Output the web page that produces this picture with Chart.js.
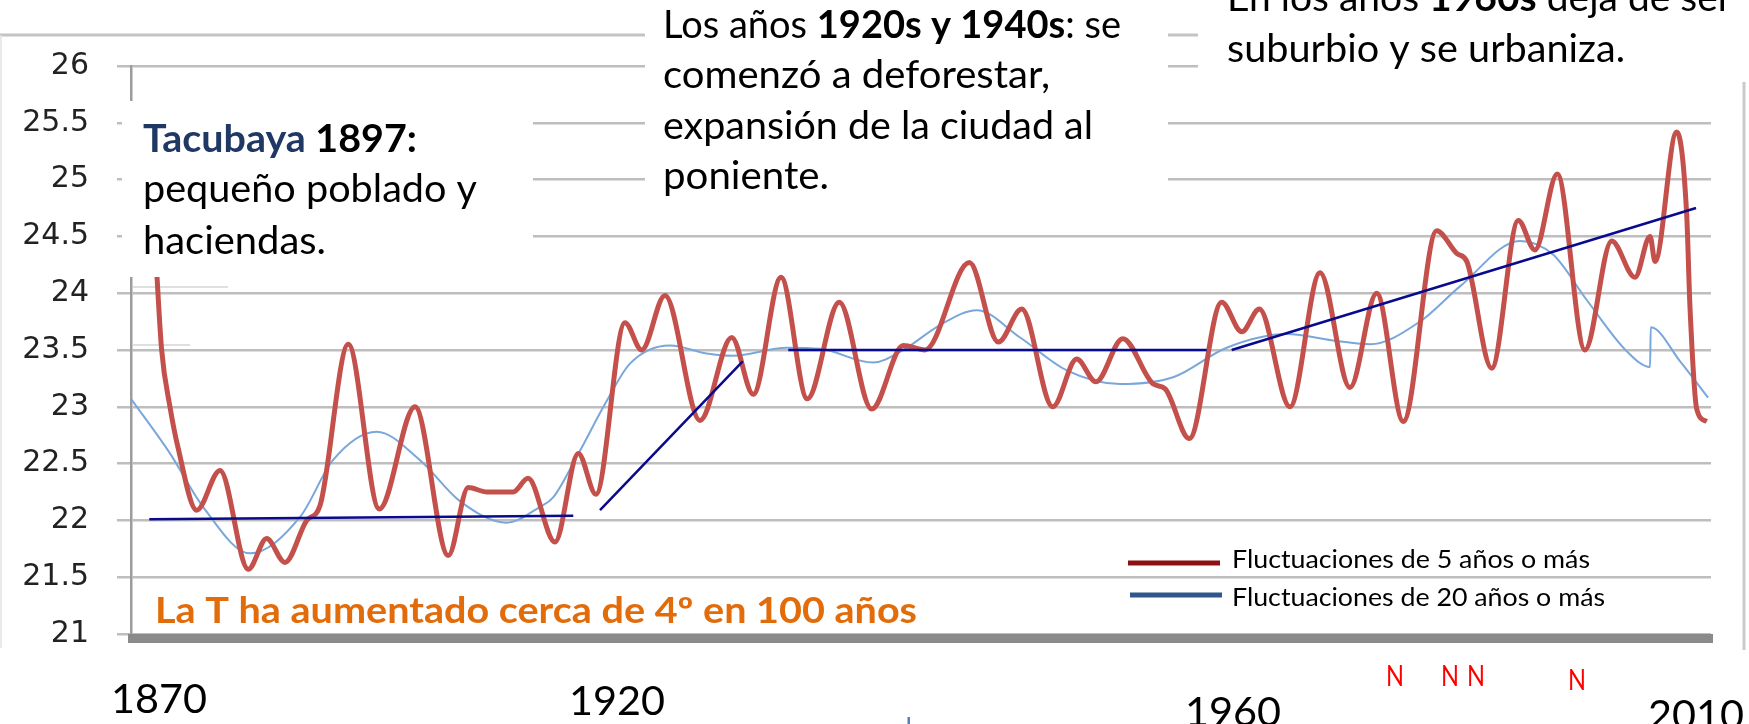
<!DOCTYPE html>
<html lang="es">
<head>
<meta charset="utf-8">
<title>Tacubaya - temperatura media</title>
<script src="https://cdn.jsdelivr.net/npm/chart.js@4.4.1/dist/chart.umd.min.js"></script>
<style>
  html, body { margin: 0; padding: 0; background: #fff; }
  #wrap { width: 1749px; height: 724px; }
</style>
</head>
<body>
<div id="wrap"><canvas id="chart" width="1749" height="724"></canvas></div>
<script>
// Smoothed annual mean temperature, Tacubaya (°C)
const years5 = [1879.10, 1879.58, 1880.28, 1880.96, 1882.53, 1884.49, 1886.87, 1888.42, 1889.96, 1891.79,
  1892.91, 1895.29, 1897.90, 1900.91, 1903.71, 1905.39, 1906.97, 1909.16, 1910.42, 1912.69,
  1914.65, 1916.14, 1918.58, 1919.99, 1921.95, 1924.90, 1927.57, 1929.38, 1931.72, 1933.93,
  1936.62, 1939.35, 1942.01, 1943.84, 1947.57, 1950.01, 1951.98, 1954.59, 1956.61, 1958.23,
  1960.48, 1963.06, 1964.04, 1966.09, 1968.81, 1970.50, 1971.98, 1974.56, 1977.09, 1979.61,
  1981.86, 1984.10, 1986.91, 1988.60, 1989.44, 1991.54, 1993.78, 1995.18, 1997.06, 1999.39,
  2001.64, 2003.60, 2004.87, 2005.29, 2007.11, 2007.95, 2008.23, 2008.80, 2009.64];
const temp5 = [24.30, 23.50, 23.00, 22.64, 22.09, 22.44, 21.57, 21.84, 21.63, 22.00,
  22.13, 23.55, 22.10, 23.00, 21.69, 22.29, 22.25, 22.25, 22.37, 21.81,
  22.59, 22.23, 23.74, 23.50, 23.98, 22.88, 23.61, 23.11, 24.14, 23.07,
  23.92, 22.98, 23.54, 23.50, 24.27, 23.57, 23.86, 23.00, 23.42, 23.22,
  23.60, 23.20, 23.16, 22.72, 23.92, 23.66, 23.86, 23.00, 24.18, 23.17,
  24.00, 22.87, 24.55, 24.35, 24.28, 23.34, 24.64, 24.38, 25.05, 23.50,
  24.46, 24.14, 24.50, 24.28, 25.42, 24.70, 23.88, 22.98, 22.87];

const years20 = [1877.00, 1880.28, 1883.06, 1887.02, 1891.23, 1894.00, 1897.68, 1901.33, 1904.69, 1908.62,
  1911.43, 1912.52, 1914.52, 1917.04, 1919.00, 1922.37, 1925.46, 1927.67, 1932.19, 1935.00,
  1939.46, 1941.99, 1945.10, 1948.19, 1951.84, 1955.77, 1960.26, 1964.72, 1969.23, 1974.28,
  1978.49, 1981.30, 1985.50, 1988.87, 1993.92, 1996.70, 1999.54, 2002.90, 2004.87, 2004.93,
  2007.40, 2009.75];
const temp20 = [23.07, 22.59, 22.12, 21.71, 22.03, 22.53, 22.78, 22.53, 22.17, 21.98,
  22.12, 22.20, 22.56, 23.05, 23.38, 23.54, 23.47, 23.45, 23.52, 23.51,
  23.39, 23.50, 23.72, 23.85, 23.61, 23.32, 23.20, 23.26, 23.52, 23.64,
  23.58, 23.55, 23.75, 24.06, 24.46, 24.34, 23.94, 23.49, 23.35, 23.70,
  23.40, 23.08];

// hand-drawn trend segments, null breaks the line between them
const trendYears = [1878.54, 1914.23, 1915.30, 1916.48, 1928.49, 1930.40, 1932.33, 1967.55, 1968.60, 1969.65, 2008.74];
const trendTemp = [22.01, 22.04, null, 22.09, 23.40, null, 23.50, 23.50, null, 23.50, 24.75];

const yearRange = [1877, 2010];
const tempRange = [21, 26];
const tempStep = 0.5;

const seriesNames = ['Fluctuaciones de 5 años o más', 'Fluctuaciones de 20 años o más'];
const yearMarks = ['1870', '1920', '1960', '2010'];

const toPoints = (xs, ys) => xs.map((x, i) => ({ x, y: ys[i] }));

const FACE = 'Lato, "Noto Sans", sans-serif';

// draws a line of mixed runs, squeezed/stretched to a given width
function fitRuns(ctx, runs, x, y, size, width) {
  ctx.save();
  ctx.textAlign = 'left';
  ctx.textBaseline = 'alphabetic';
  const pieces = runs.map(([text, bold, color]) => {
    ctx.font = (bold ? 'bold ' : '') + size + 'px ' + FACE;
    return { text, color, font: ctx.font, w: ctx.measureText(text).width };
  });
  const natural = pieces.reduce((s, p) => s + p.w, 0);
  ctx.translate(x, y);
  ctx.scale(width ? width / natural : 1, 1);
  let cx = 0;
  for (const p of pieces) {
    ctx.font = p.font;
    ctx.fillStyle = p.color || '#000';
    ctx.fillText(p.text, cx, 0);
    cx += p.w;
  }
  ctx.restore();
}

function seg(ctx, x1, y1, x2, y2) {
  ctx.beginPath();
  ctx.moveTo(x1, y1);
  ctx.lineTo(x2, y2);
  ctx.stroke();
}

// white callouts laid over the chart
const boxes = [
  [122, 101, 411, 176],
  [645, 0, 523, 205],
  [1198, 0, 551, 82]
];

const notes = [
  { x: 143, y: 152, w: 274, runs: [['Tacubaya', true, '#1F3864'], [' 1897:', true]] },
  { x: 143, y: 202, w: 334, runs: [['pequeño poblado y']] },
  { x: 143, y: 254, w: 183, runs: [['haciendas.']] },
  { x: 663, y: 38, w: 458, runs: [['Los años '], ['1920s y 1940s', true], [': se']] },
  { x: 663, y: 88, w: 387, runs: [['comenzó a deforestar,']] },
  { x: 663, y: 139, w: 430, runs: [['expansión de la ciudad al']] },
  { x: 663, y: 189, w: 166, runs: [['poniente.']] },
  { x: 1227, y: 11, w: 505, runs: [['En los años '], ['1960s', true], [' deja de ser']] },
  { x: 1227, y: 62, w: 398, runs: [['suburbio y se urbaniza.']] }
];

const decor = {
  id: 'decor',
  beforeDraw(chart) {
    const ctx = chart.ctx;
    ctx.save();
    ctx.fillStyle = '#fff';
    ctx.fillRect(0, 0, chart.width, chart.height);
    // frame of the pasted chart
    ctx.strokeStyle = '#c4c4c4';
    ctx.lineWidth = 3;
    seg(ctx, 0, 35, chart.width, 35);
    ctx.strokeStyle = '#cacaca';
    seg(ctx, 1744, 35, 1744, 650);
    ctx.strokeStyle = '#e2e2e2';
    ctx.lineWidth = 1.5;
    seg(ctx, 1, 35, 1, 648);
    ctx.restore();
  },
  beforeDatasetsDraw(chart) {
    const { ctx, chartArea: a } = chart;
    ctx.save();
    ctx.fillStyle = '#8a8a8a';
    ctx.fillRect(a.left - 3, a.bottom, a.right - a.left + 5, 9);
    ctx.strokeStyle = '#d4d4d4';
    ctx.lineWidth = 1.5;
    seg(ctx, 133, 287, 228, 287);
    seg(ctx, 133, 345, 190, 345);
    ctx.restore();
  },
  afterDraw(chart) {
    const ctx = chart.ctx;
    ctx.save();
    ctx.fillStyle = '#fff';
    boxes.forEach(([x, y, w, h]) => ctx.fillRect(x, y, w, h));
    notes.forEach(n => fitRuns(ctx, n.runs, n.x, n.y, 38, n.w));

    fitRuns(ctx, [['La T ha aumentado cerca de 4º en 100 años', true, '#E36C0A']], 155, 623, 35.5, 762);

    // legend
    ctx.lineCap = 'butt';
    ctx.lineWidth = 5;
    ctx.strokeStyle = '#8E1010';
    seg(ctx, 1128, 563, 1220, 563);
    ctx.strokeStyle = '#2E578E';
    seg(ctx, 1130, 595, 1222, 595);
    const ds = chart.data.datasets;
    fitRuns(ctx, [[ds[1].label]], 1232, 568, 25.5, 358);
    fitRuns(ctx, [[ds[2].label]], 1232, 606, 25.5, 373);

    // year captions under the axis
    const yearPos = [[111, 713], [569, 715], [1185, 726], [1648, 729]];
    yearMarks.forEach((t, i) => fitRuns(ctx, [[t]], yearPos[i][0], yearPos[i][1], 40, 96));

    const nPos = [[1386, 686], [1441, 686], [1467, 686], [1568, 690]];
    nPos.forEach(([x, y]) => fitRuns(ctx, [['N', false, '#FF0000']], x, y, 28, 18));

    ctx.fillStyle = '#5b7fb5';
    ctx.fillRect(907.5, 717, 2.5, 7);
    ctx.restore();
  }
};

new Chart(document.getElementById('chart'), {
  type: 'line',
  data: {
    datasets: [
      {
        label: 'Tendencia',
        data: toPoints(trendYears, trendTemp),
        borderColor: '#0A0A8C',
        borderWidth: 2.5,
        tension: 0,
        spanGaps: false
      },
      {
        label: seriesNames[0],
        data: toPoints(years5, temp5),
        borderColor: '#C4504C',
        borderWidth: 5,
        cubicInterpolationMode: 'monotone'
      },
      {
        label: seriesNames[1],
        data: toPoints(years20, temp20),
        borderColor: '#7AA7DB',
        borderWidth: 2,
        cubicInterpolationMode: 'monotone'
      }
    ]
  },
  options: {
    responsive: false,
    animation: false,
    devicePixelRatio: 1,
    layout: { padding: { top: 66, right: 38, bottom: 90, left: 0 } },
    elements: { point: { radius: 0 } },
    plugins: {
      legend: { display: false },
      tooltip: { enabled: false }
    },
    scales: {
      x: { type: 'linear', min: yearRange[0], max: yearRange[1], display: false },
      y: {
        min: tempRange[0],
        max: tempRange[1],
        afterFit: scale => { scale.width = 131; },
        ticks: {
          stepSize: tempStep,
          padding: 28,
          color: '#222',
          font: { family: '"DejaVu Sans"', size: 30 },
          callback: v => String(v)
        },
        grid: { color: '#bebebe', lineWidth: 2.5, tickLength: 14 },
        border: { color: '#9c9c9c', width: 2.5 }
      }
    }
  },
  plugins: [decor]
});
</script>
</body>
</html>
